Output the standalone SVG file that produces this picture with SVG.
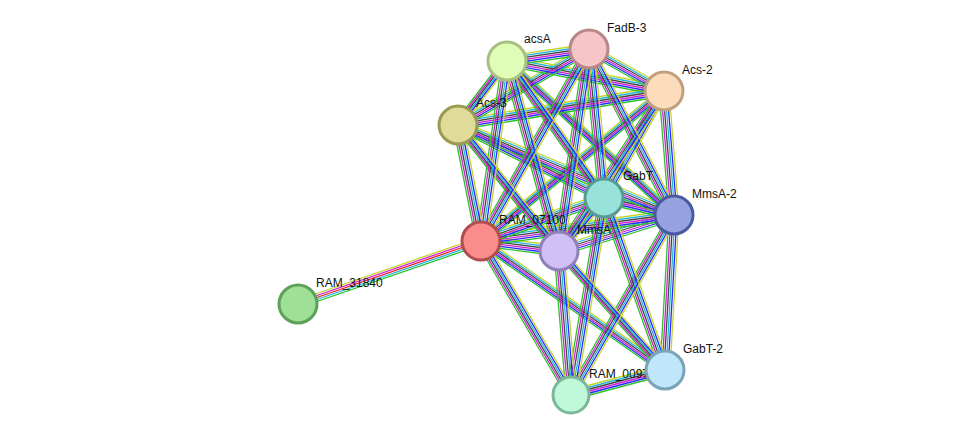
<svg xmlns="http://www.w3.org/2000/svg" xmlns:xlink="http://www.w3.org/1999/xlink" width="976" height="441" viewBox="0 0 976 441">
<style>
.n{stroke-width:3}
.t{font-family:"Liberation Sans",Arial,sans-serif;font-size:12px;fill:#111}
</style>
<defs>
<g id="H" fill="none">
<path d="M507 61L589 49M507 61L664 91M589 49L664 91M589 49L458 125M664 91L458 125M507 61L674 215M664 91L481 241M458 125L604 198M458 125L674 215M604 198L674 215M604 198L481 241M674 215L481 241M674 215L559 251M481 241L559 251M481 241L665 370M571 395L665 370"/>
</g>
<g id="V" fill="none">
<path d="M507 61L458 125M507 61L604 198M507 61L481 241M507 61L559 251M589 49L604 198M589 49L674 215M589 49L481 241M589 49L559 251M664 91L604 198M664 91L674 215M664 91L559 251M458 125L481 241M458 125L559 251M604 198L559 251M481 241L571 395M559 251L571 395M559 251L665 370M604 198L571 395M604 198L665 370M674 215L571 395M674 215L665 370"/>
</g>
</defs>
<g id="connectors" stroke-width="1.3">
<use xlink:href="#H" transform="translate(0,-5)" stroke="#c4d42a"/>
<use xlink:href="#H" transform="translate(0,-3)" stroke="#22b4e0"/>
<use xlink:href="#H" transform="translate(0,-1)" stroke="#444"/>
<use xlink:href="#H" transform="translate(0,1)" stroke="#d020d0"/>
<use xlink:href="#H" transform="translate(0,3)" stroke="#2828ff"/>
<use xlink:href="#H" transform="translate(0,5)" stroke="#2cc22c"/>
<use xlink:href="#V" transform="translate(-5,0)" stroke="#2cc22c"/>
<use xlink:href="#V" transform="translate(-3,0)" stroke="#d020d0"/>
<use xlink:href="#V" transform="translate(-1,0)" stroke="#444"/>
<use xlink:href="#V" transform="translate(1,0)" stroke="#22b4e0"/>
<use xlink:href="#V" transform="translate(3,0)" stroke="#2828ff"/>
<use xlink:href="#V" transform="translate(5,0)" stroke="#c4d42a"/>
<g fill="none">
<path d="M481 237L298 300" stroke="#c4d42a"/>
<path d="M481 239L298 302" stroke="#d020d0"/>
<path d="M481 241L298 304" stroke="#f02020"/>
<path d="M481 243L298 306" stroke="#22b4e0"/>
<path d="M481 245L298 308" stroke="#2cc22c"/>
</g>
</g>
<g id="acsA"><circle class="n" cx="507" cy="61" r="19" fill="#e0fdb8" stroke="#a8c080"/><text class="t" x="524" y="43">acsA</text></g>
<g id="FadB-3"><circle class="n" cx="589" cy="49" r="19" fill="#f7c4c8" stroke="#b88888"/><text class="t" x="607" y="32">FadB-3</text></g>
<g id="Acs-2"><circle class="n" cx="664" cy="91" r="19" fill="#fddcbc" stroke="#c0a080"/><text class="t" x="682" y="74">Acs-2</text></g>
<g id="Acs-3"><circle class="n" cx="458" cy="125" r="19" fill="#dedc98" stroke="#9a9a50"/><text class="t" x="476" y="107">Acs-3</text></g>
<g id="GabT"><circle class="n" cx="604" cy="198" r="19" fill="#98e2da" stroke="#5a9a94"/><text class="t" x="623" y="180">GabT</text></g>
<g id="MmsA-2"><circle class="n" cx="674" cy="215" r="19" fill="#96a2e0" stroke="#4a5aa0"/><text class="t" x="692" y="198">MmsA-2</text></g>
<g id="RAM_07100"><circle class="n" cx="481" cy="241" r="19" fill="#fa8c8c" stroke="#b04e4e"/><text class="t" x="499" y="224">RAM_07100</text></g>
<g id="MmsA"><circle class="n" cx="559" cy="251" r="19" fill="#d0c0f6" stroke="#9080b8"/><text class="t" x="577" y="234">MmsA</text></g>
<g id="RAM_31840"><circle class="n" cx="298" cy="304" r="19" fill="#a0e096" stroke="#5ca05a"/><text class="t" x="316" y="287">RAM_31840</text></g>
<g id="RAM_00970"><circle class="n" cx="571" cy="395" r="18" fill="#c0f8da" stroke="#7ab896"/><text class="t" x="589" y="378">RAM_00970</text></g>
<g id="GabT-2"><circle class="n" cx="665" cy="370" r="19" fill="#c0e6fa" stroke="#7aa2b8"/><text class="t" x="683" y="353">GabT-2</text></g>
</svg>
